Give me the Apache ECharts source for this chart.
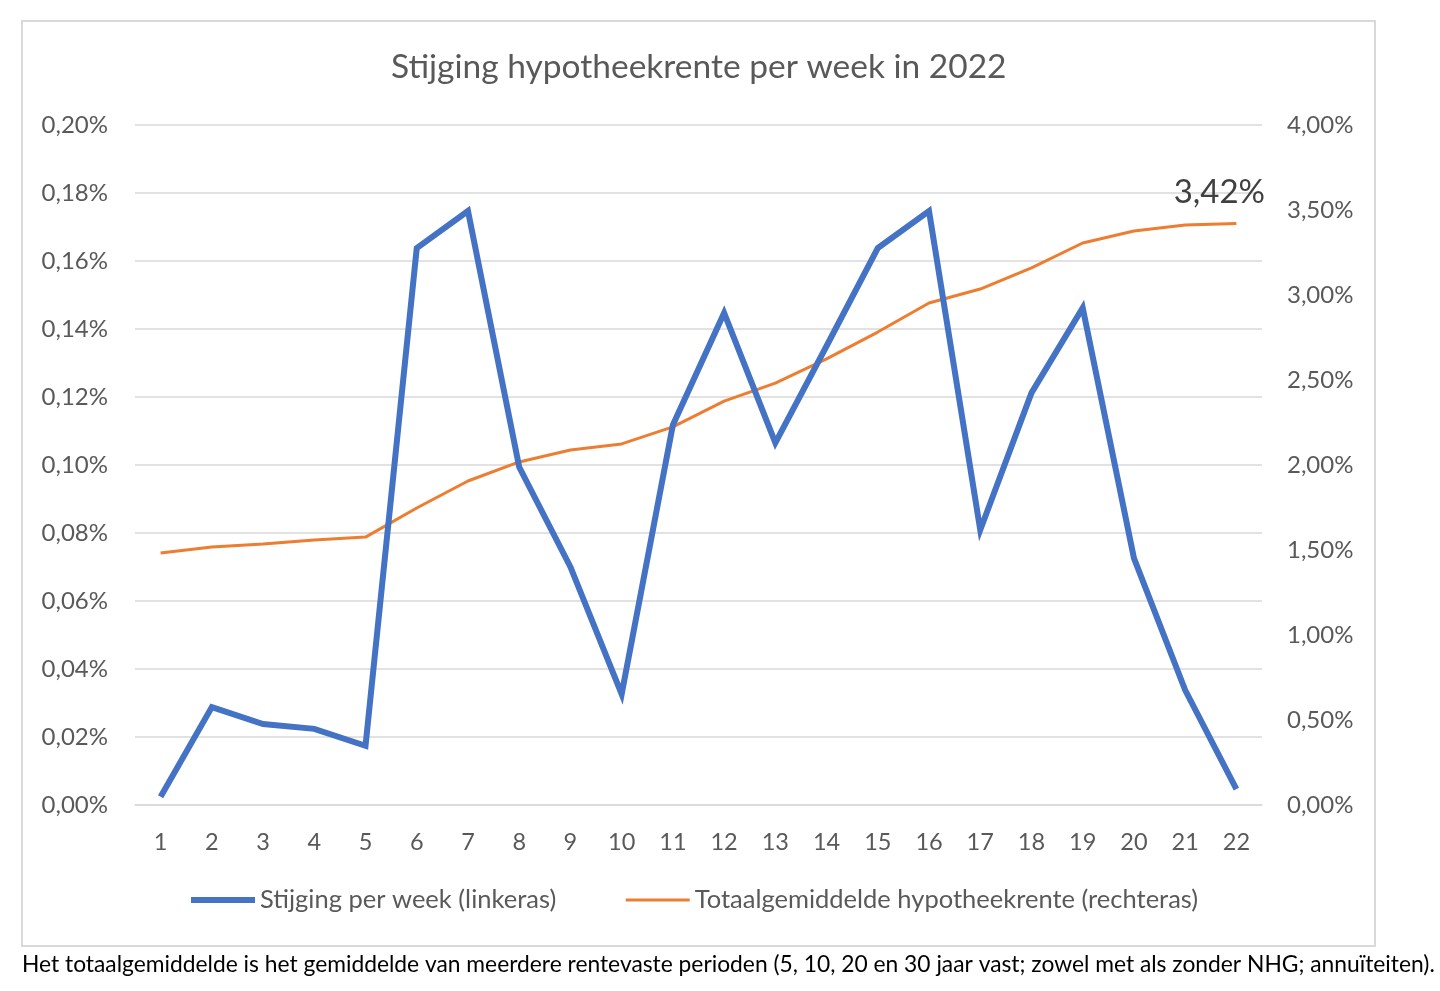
<!DOCTYPE html>
<html>
<head>
<meta charset="utf-8">
<script src="https://cdn.jsdelivr.net/npm/echarts@6/dist/echarts.min.js"></script>
<style>
  html, body { margin: 0; padding: 0; background: #fff; }
  #chart { width: 1440px; height: 991px; }
</style>
</head>
<body>
<div id="chart"></div>
<script>
// weeks 1..22 of 2022
var weeks = ["1","2","3","4","5","6","7","8","9","10","11","12","13","14","15","16","17","18","19","20","21","22"];
// weekly rise in percentage points (left axis)
var stijging = [0.0024, 0.0288, 0.0238, 0.0224, 0.0174, 0.1638, 0.1747, 0.0994, 0.0700, 0.0326, 0.1118,
                0.1447, 0.1065, 0.1350, 0.1638, 0.1747, 0.0809, 0.1212, 0.1462, 0.0726, 0.0338, 0.0047];
// overall average mortgage rate in % (right axis)
var totaal = [1.482, 1.518, 1.535, 1.559, 1.576, 1.747, 1.906, 2.018, 2.088, 2.124, 2.224,
              2.376, 2.482, 2.624, 2.782, 2.953, 3.035, 3.159, 3.306, 3.376, 3.412, 3.42];
var leftTicks = { min: 0, max: 0.20, interval: 0.02 };
var rightTicks = { min: 0, max: 4.0, interval: 0.5 };

var FONT = "Lato";
var grey = "#595959";

function pct(v) {
    return v.toFixed(2).replace(".", ",") + "%";
}

var chart = echarts.init(document.getElementById("chart"), null, { renderer: "canvas" });
var lastIdx = totaal.length - 1;

var option = {
    animation: false,
    backgroundColor: "#fff",
    textStyle: { fontFamily: FONT },
    title: {
        text: "Stijging hypotheekrente per week in 2022",
        left: 386,
        top: 45,
        textStyle: { color: grey, fontSize: 33.5, fontWeight: "normal", fontFamily: FONT }
    },
    grid: { left: 135, right: 178, top: 125, bottom: 186 },
    legend: {
        bottom: 73,
        left: 183,
        itemGap: 68,
        itemWidth: 64,
        itemHeight: 14,
        itemStyle: { opacity: 0 },
        textStyle: { color: grey, fontSize: 25.5, fontFamily: FONT },
        data: [
            { name: "Stijging per week (linkeras)", lineStyle: { width: 6 } },
            { name: "Totaalgemiddelde hypotheekrente (rechteras)", lineStyle: { width: 3 } }
        ]
    },
    xAxis: {
        type: "category",
        data: weeks,
        axisLine: { show: true, lineStyle: { color: "#D9D9D9", width: 1.5 } },
        axisTick: { show: false },
        axisLabel: { color: grey, fontSize: 23.5, margin: 25, fontFamily: FONT }
    },
    yAxis: [
        {
            type: "value",
            min: leftTicks.min,
            max: leftTicks.max,
            interval: leftTicks.interval,
            axisLine: { show: false },
            axisTick: { show: false },
            splitLine: { lineStyle: { color: "#D9D9D9", width: 1.5 } },
            axisLabel: { color: grey, fontSize: 24, margin: 27, fontFamily: FONT, formatter: pct }
        },
        {
            type: "value",
            min: rightTicks.min,
            max: rightTicks.max,
            interval: rightTicks.interval,
            axisLine: { show: false },
            axisTick: { show: false },
            splitLine: { show: false },
            axisLabel: { color: grey, fontSize: 24, margin: 25, fontFamily: FONT, formatter: pct }
        }
    ],
    series: [
        {
            name: "Stijging per week (linkeras)",
            type: "line",
            yAxisIndex: 0,
            data: stijging,
            symbol: "none",
            color: "#4472C4",
            lineStyle: { color: "#4472C4", width: 6, join: "miter" },
            z: 3
        },
        {
            name: "Totaalgemiddelde hypotheekrente (rechteras)",
            type: "line",
            yAxisIndex: 1,
            data: totaal,
            symbol: "none",
            color: "#ED7D31",
            lineStyle: { color: "#ED7D31", width: 3 },
            markPoint: {
                symbol: "circle",
                symbolSize: 0,
                data: [{ coord: [weeks[lastIdx], totaal[lastIdx]], value: totaal[lastIdx] }],
                label: {
                    show: true,
                    position: "top",
                    offset: [-17, -10],
                    formatter: function (p) { return pct(p.value); },
                    color: "#404040",
                    fontSize: 33,
                    fontFamily: FONT
                }
            },
            z: 2
        }
    ],
    graphic: [
        {
            type: "rect",
            shape: { x: 22, y: 21, width: 1353, height: 925 },
            style: { fill: "none", stroke: "#D9D9D9", lineWidth: 2 },
            silent: true,
            z: -1
        },
        {
            type: "text",
            left: 22,
            top: 953,
            style: {
                text: "Het totaalgemiddelde is het gemiddelde van meerdere rentevaste perioden (5, 10, 20 en 30 jaar vast; zowel met als zonder NHG; annuïteiten).",
                fill: "#000",
                font: "22.8px " + FONT
            }
        }
    ]
};

chart.setOption(option);
</script>
</body>
</html>
